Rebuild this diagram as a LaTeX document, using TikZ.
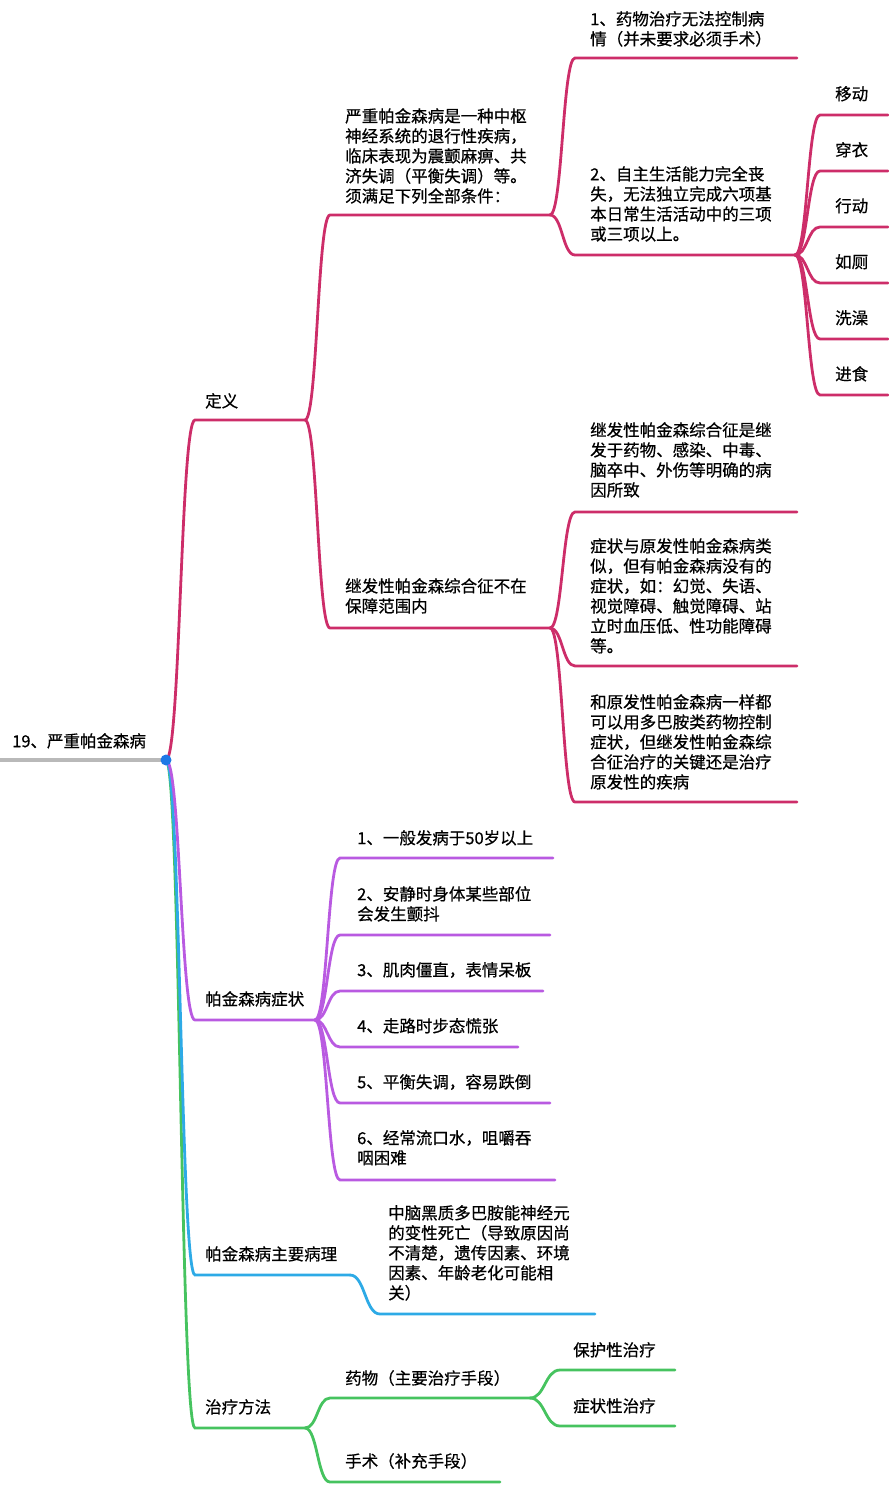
\documentclass[tikz,border=0pt]{standalone}
\usepackage{fontspec}
\setmainfont{Noto Sans CJK SC}[BoldFont=Noto Sans CJK SC,BoldFeatures={FakeBold=0.6}]
\usetikzlibrary{calc}
\begin{document}
\begin{tikzpicture}[x=1pt,y=-1pt,
  txt/.style={anchor=north west,inner sep=0pt,font=\fontsize{16.5}{20}\bfseries,align=left},
  br/.style={line width=2.8pt,line cap=round},
  red/.style={br,draw=cR}, pur/.style={br,draw=cP}, blu/.style={br,draw=cB}, grn/.style={br,draw=cG},
  cv/.style={to path={let \p1=(\tikztostart),\p2=(\tikztotarget) in
     .. controls ({(\x1+\x2)/2},\y1) and ({(\x1+\x2)/2},\y2) .. (\tikztotarget)}}]
\definecolor{cR}{RGB}{205,45,105}
\definecolor{cP}{RGB}{185,90,225}
\definecolor{cB}{RGB}{45,170,230}
\definecolor{cG}{RGB}{70,195,95}
\definecolor{cGr}{RGB}{185,185,185}
\definecolor{cDot}{RGB}{30,120,230}
\useasboundingbox (0,0) rectangle (888,1495);
% root
\node[txt] (root) at (12,733) {19、严重帕金森病};
\coordinate (r0) at (0,760); \coordinate (r) at (166,760);
\draw[br,line width=3.5pt,draw=cGr] (r0) -- (r);
% level 1
\coordinate (d0) at (195,420); \coordinate (d1) at (305,420);
\coordinate (s0) at (195,1020); \coordinate (s1) at (315,1020);
\coordinate (p0) at (195,1275); \coordinate (p1) at (350,1275);
\coordinate (t0) at (195,1428); \coordinate (t1) at (305,1428);
\draw[grn] (r) to[cv] (t0) -- (t1);
\draw[blu] (r) to[cv] (p0) -- (p1);
\draw[pur] (r) to[cv] (s0) -- (s1);
\draw[red] (r) to[cv] (d0) -- (d1);
\node[txt] (dt) at (205,393) {定义};
\node[txt] (st) at (205,991) {帕金森病症状};
\node[txt] (pt) at (205,1246) {帕金森病主要病理};
\node[txt] (tt) at (205,1399) {治疗方法};
% 定义 children
\coordinate (a0) at (330,215); \coordinate (a1) at (550,215);
\coordinate (b0) at (330,628); \coordinate (b1) at (550,628);
\draw[red] (d1) to[cv] (a0) -- (a1);
\draw[red] (d1) to[cv] (b0) -- (b1);
\node[txt] (at) at (345,108) {严重帕金森病是一种中枢\\神经系统的退行性疾病，\\临床表现为震颤麻痹、共\\济失调（平衡失调）等。\\须满足下列全部条件：};
\node[txt] (bt) at (345,578) {继发性帕金森综合征不在\\保障范围内};
% a children
\coordinate (a10) at (575,58); \coordinate (a11) at (797,58);
\coordinate (a20) at (575,255); \coordinate (a21) at (795,255);
\draw[red] (a1) to[cv] (a10) -- (a11);
\draw[red] (a1) to[cv] (a20) -- (a21);
\node[txt] (a1t) at (590,11) {1、药物治疗无法控制病\\情（并未要求必须手术）};
\node[txt] (a2t) at (590,166) {2、自主生活能力完全丧\\失，无法独立完成六项基\\本日常生活活动中的三项\\或三项以上。};
% six leaves
\foreach \nm/\t [count=\i from 0] in {l1/移动,l2/穿衣,l3/行动,l4/如厕,l5/洗澡,l6/进食}{
  \coordinate (\nm0) at (820,115+56*\i);
  \coordinate (\nm1) at (888,115+56*\i);
  \draw[red] (a21) to[cv] (\nm0) -- (\nm1);
  \node[txt] (\nm t) at (835,86+56*\i) {\t};
}
% b children
\coordinate (b10) at (575,512); \coordinate (b11) at (797,512);
\coordinate (b20) at (575,666); \coordinate (b21) at (797,666);
\coordinate (b30) at (575,802); \coordinate (b31) at (797,802);
\draw[red] (b1) to[cv] (b10) -- (b11);
\draw[red] (b1) to[cv] (b20) -- (b21);
\draw[red] (b1) to[cv] (b30) -- (b31);
\node[txt] (b1t) at (590,422) {继发性帕金森综合征是继\\发于药物、感染、中毒、\\脑卒中、外伤等明确的病\\因所致};
\node[txt] (b2t) at (590,538) {症状与原发性帕金森病类\\似，但有帕金森病没有的\\症状，如：幻觉、失语、\\视觉障碍、触觉障碍、站\\立时血压低、性功能障碍\\等。};
\node[txt] (b3t) at (590,694) {和原发性帕金森病一样都\\可以用多巴胺类药物控制\\症状，但继发性帕金森综\\合征治疗的关键还是治疗\\原发性的疾病};
% symptoms
\foreach \nm/\yy/\e/\ty/\t in {
  c1/858/553/830/{1、一般发病于50岁以上},
  c2/935/550/886/{2、安静时身体某些部位\\会发生颤抖},
  c3/991/543/962/{3、肌肉僵直，表情呆板},
  c4/1047/518/1018/{4、走路时步态慌张},
  c5/1103/550/1074/{5、平衡失调，容易跌倒},
  c6/1180/555/1130/{6、经常流口水，咀嚼吞\\咽困难}}{
  \coordinate (\nm0) at (340,\yy); \coordinate (\nm1) at (\e,\yy);
  \draw[pur] (s1) to[cv] (\nm0) -- (\nm1);
  \node[txt] (\nm t) at (357,\ty) {\t};
}
% pathology
\coordinate (q0) at (380,1314); \coordinate (q1) at (595,1314);
\draw[blu] (p1) to[cv] (q0) -- (q1);
\node[txt] (qt) at (388,1205) {中脑黑质多巴胺能神经元\\的变性死亡（导致原因尚\\不清楚，遗传因素、环境\\因素、年龄老化可能相\\关）};
% treatment
\coordinate (m0) at (330,1398); \coordinate (m1) at (530,1398);
\coordinate (n0) at (330,1482); \coordinate (n1) at (500,1482);
\draw[grn] (t1) to[cv] (m0) -- (m1);
\draw[grn] (t1) to[cv] (n0) -- (n1);
\node[txt] (mt) at (345,1370) {药物（主要治疗手段）};
\node[txt] (nt) at (345,1453) {手术（补充手段）};
\coordinate (o10) at (560,1370); \coordinate (o11) at (675,1370);
\coordinate (o20) at (560,1426); \coordinate (o21) at (675,1426);
\draw[grn] (m1) to[cv] (o10) -- (o11);
\draw[grn] (m1) to[cv] (o20) -- (o21);
\node[txt] (o1t) at (573,1342) {保护性治疗};
\node[txt] (o2t) at (573,1398) {症状性治疗};
\fill[cDot] (r) circle (5.5);
\end{tikzpicture}
\end{document}
